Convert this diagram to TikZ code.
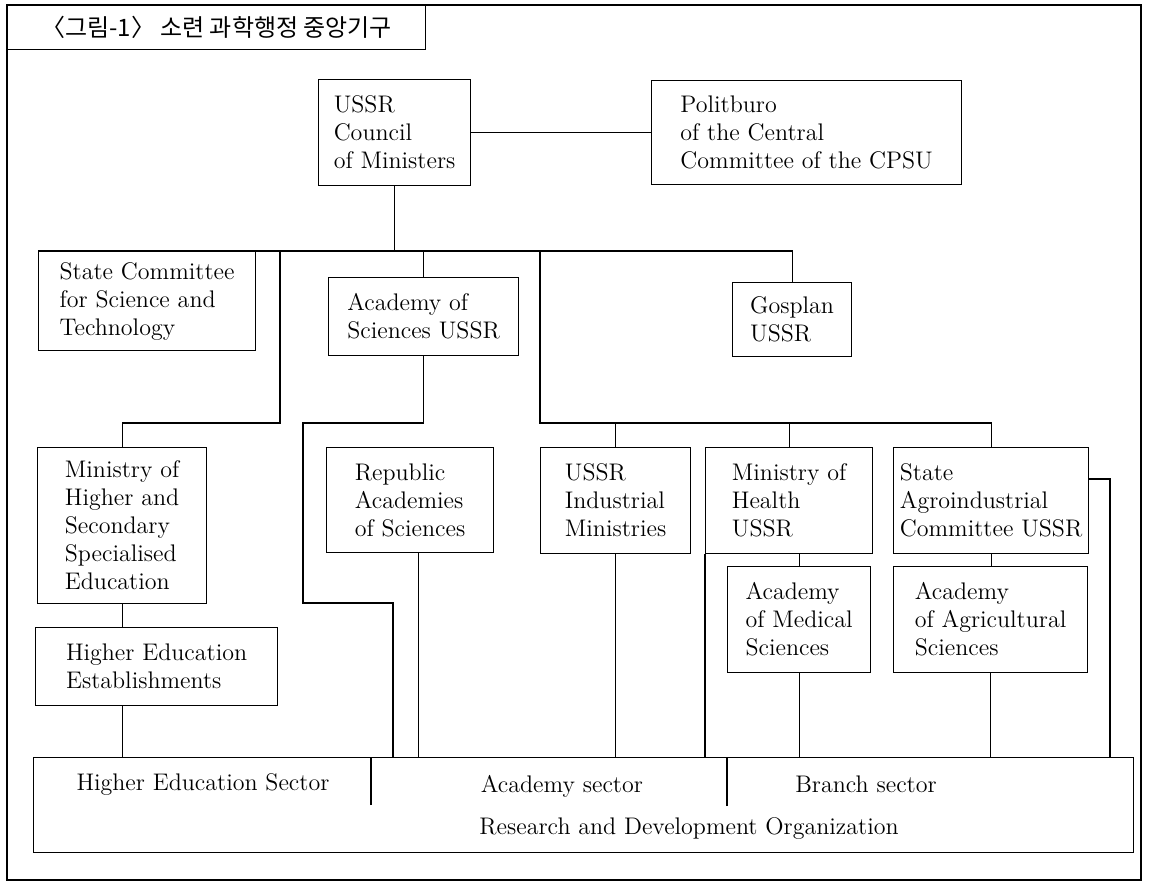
\documentclass[tikz,border=0pt]{standalone}
\usepackage{fontspec}
\newfontfamily\krfont{Noto Sans CJK KR}
\tikzset{
	orgbox/.style={draw, anchor=north west, align=left, inner sep=1pt},
	every node/.append style={font=\fontsize{12}{14}\selectfont}
}
\begin{document}
\begin{tikzpicture}[x=0.5pt,y=-0.5pt,line width=0.6pt]
	\useasboundingbox (0,0) rectangle (1150,890);
	\draw (7,5) rectangle (1141,880);

	\node[orgbox, minimum width=209pt, minimum height=22pt, font=\krfont\fontsize{12}{14}\selectfont] (title) at (7,5) {〈그림-1〉 소련 과학행정 중앙기구};

	% top level
	\node[orgbox, minimum width=76pt, minimum height=53pt] (council) at (318,79) {USSR\\Council\\of Ministers};
	\node[orgbox, minimum width=155pt, minimum height=52pt] (politburo) at (651,80) {Politburo\\of the Central\\Committee of the CPSU};

	% second level
	\node[orgbox, minimum width=108.5pt, minimum height=49.5pt] (statecom) at (38,251) {State Committee\\for Science and\\Technology};
	\node[orgbox, minimum width=95pt, minimum height=39pt] (academy) at (328,277) {Academy of\\Sciences USSR};
	\node[orgbox, minimum width=59.5pt, minimum height=37pt] (gosplan) at (732,282) {Gosplan\\USSR};

	% third level
	\node[orgbox, minimum width=84.5pt, minimum height=78pt] (minhigher) at (37,447) {Ministry of\\Higher and\\Secondary\\Specialised\\Education};
	\node[orgbox, minimum width=121pt, minimum height=39pt] (hee) at (35,627) {Higher Education\\Establishments};
	\node[orgbox, minimum width=83.5pt, minimum height=52.5pt] (republic) at (326,447) {Republic\\Academies\\of Sciences};
	\node[orgbox, minimum width=75pt, minimum height=53pt] (industrial) at (540,447) {USSR\\Industrial\\Ministries};
	\node[orgbox, minimum width=83.5pt, minimum height=53pt] (health) at (705,447) {Ministry of\\Health\\USSR};
	\node[orgbox, minimum width=97.5pt, minimum height=53pt] (agro) at (893,447) {State\\Agroindustrial\\Committee USSR};
	\node[orgbox, minimum width=71.5pt, minimum height=53pt] (medical) at (727,566) {Academy\\of Medical\\Sciences};
	\node[orgbox, minimum width=97pt, minimum height=53pt] (agri) at (893,566) {Academy\\of Agricultural\\Sciences};

	% sectors
	\node[orgbox, minimum width=550pt, minimum height=47.5pt] (rd) at (33,757) {};
	\node (hesec) at (203,784) {Higher Education Sector};
	\node (acsec) at (562,786) {Academy sector};
	\node (brsec) at (866,784) {Branch sector};
	\node (rdorg) at (689,828) {Research and Development Organization};

	\coordinate (lvl) at (0,423);
	\coordinate (scdrop) at (280,251);
	\coordinate (brdrop) at (540,251);
	\coordinate (acbend) at (303,603);
	\coordinate (acdrop) at (393,603);
	\coordinate (agside) at (1110,479);
	\coordinate (divA) at (371,805);
	\coordinate (divB) at (727,806);

	\draw (council.east) -- (council.east -| politburo.west);
	\draw (council.south) -- (council.south |- statecom.north);
	\draw (statecom.north west) -| (gosplan.north);
	\draw (academy.north) -- (academy.north |- statecom.north);

	\draw (scdrop) -- (scdrop |- lvl) -| (minhigher.north);
	\draw (academy.south) -- (academy.south |- lvl) -| (acbend) -- (acdrop) -- (acdrop |- rd.north);
	\draw (brdrop) -- (brdrop |- lvl) -| (agro.north);
	\draw (industrial.north) -- (industrial.north |- lvl);
	\draw (health.north) -- (health.north |- lvl);

	\draw (minhigher.south) -- (minhigher.south |- hee.north);
	\draw (health.south -| medical.north) -- (medical.north);
	\draw (agro.south) -- (agro.south |- agri.north);
	\draw (agro.east |- agside) -- (agside) -- (agside |- rd.north);

	\foreach \n in {industrial, medical, agri}
		\draw (\n.south) -- (\n.south |- rd.north);
	\draw (minhigher.south |- hee.south) -- (minhigher.south |- rd.north);
	\draw ([xshift=4pt]republic.south) -- ([xshift=4pt]republic.south |- rd.north);
	\draw (health.south west) -- (health.south west |- rd.north);

	\draw (divA) -- (divA |- rd.north);
	\draw (divB) -- (divB |- rd.north);
\end{tikzpicture}
\end{document}
